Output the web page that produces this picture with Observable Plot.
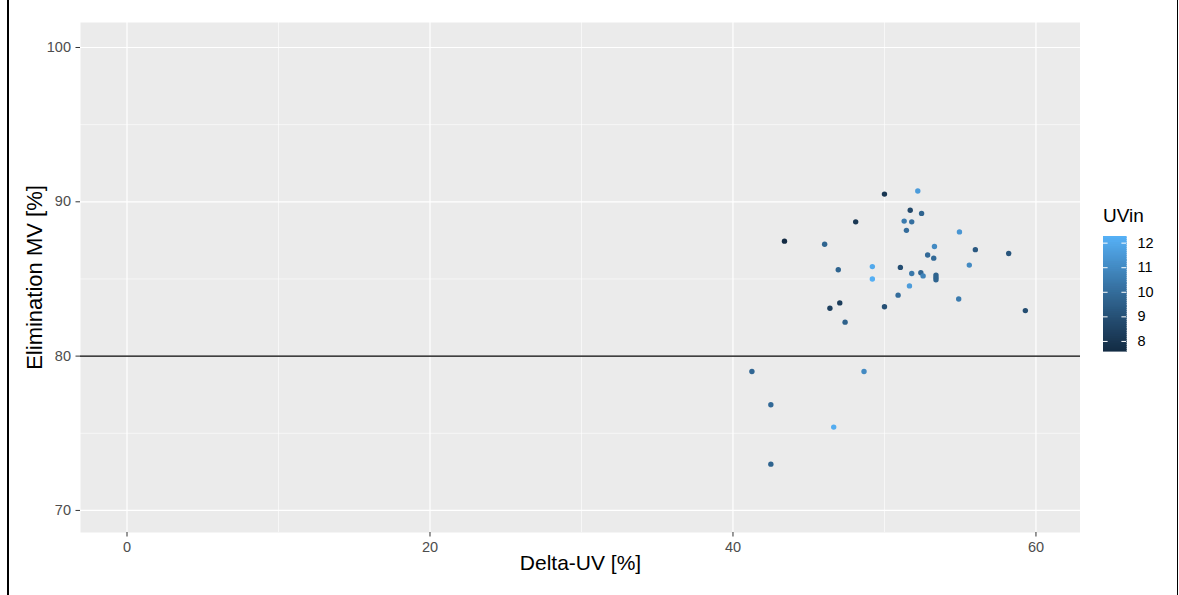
<!DOCTYPE html>
<html><head><meta charset="utf-8">
<script src="https://cdn.jsdelivr.net/npm/d3@7"></script>
<script src="https://cdn.jsdelivr.net/npm/@observablehq/plot@0.6"></script>
<style>
body{margin:0;background:#fff;font-family:"Liberation Sans",Arial,sans-serif;}
#wrap{position:relative;width:1179px;height:595px;overflow:hidden;background:#fff;}
#main{position:absolute;left:0;top:0;}
#legend{position:absolute;left:1080px;top:195px;}
#ltitle{position:absolute;left:1103px;top:205px;font-size:19px;line-height:22px;color:#000;}
.edgeL{position:absolute;left:7px;top:0;width:2px;height:595px;background:#000;}
.edgeR{position:absolute;left:1177px;top:0;width:1px;height:595px;background:#000;}
</style></head><body>
<div id="wrap"><div class="edgeL"></div><div class="edgeR"></div><div id="main"></div><div id="legend"></div><div id="ltitle">UVin</div></div>
<script>
const deltaUV = [50.0,52.2,51.7,52.45,51.3,51.8,51.45,48.1,54.95,43.4,46.05,53.3,56.0,58.2,52.85,53.25,46.95,49.2,51.05,55.6,51.8,52.4,52.55,53.4,53.4,53.4,49.2,51.65,50.9,54.9,47.05,46.4,50.0,59.3,47.4,41.25,48.65,42.5,46.65,42.5];
const elimMV  = [90.5,90.7,89.45,89.25,88.75,88.7,88.15,88.7,88.05,87.45,87.25,87.1,86.9,86.65,86.55,86.35,85.6,85.8,85.75,85.9,85.35,85.4,85.2,85.25,85.1,84.95,85.0,84.55,83.95,83.7,83.45,83.1,83.2,82.95,82.2,79.0,79.0,76.85,75.4,73.0];
const uvin    = [8.0,11.6,8.7,9.7,10.5,10.1,10.0,8.1,11.4,7.6,9.7,11.0,9.3,9.2,9.9,9.9,9.7,12.0,8.9,11.0,10.4,9.8,10.8,9.7,9.7,9.7,12.2,11.6,10.0,10.5,8.3,8.4,9.0,8.9,9.6,9.8,11.0,9.9,12.1,9.7];
const xTicks = [0,20,40,60];
const xMinor = [10,30,50];
const yTicks = [70,80,90,100];
const yMinor = [75,85,95];
const uvTicks = [8,9,10,11,12];
const refLine = [80];

const data = deltaUV.map((d,i)=>({x:d,y:elimMV[i],uv:uvin[i]}));
const colorOpts = {type:"linear", domain:[7.59,12.27], range:["#132B43","#56B1F7"], interpolate:"lab"};

const main = Plot.plot({
  width:1080, height:595,
  marginLeft:80, marginRight:0, marginTop:22, marginBottom:63,
  style:{fontFamily:"Liberation Sans, Arial, sans-serif", background:"transparent"},
  x:{domain:[-3.07,62.94]},
  y:{domain:[68.57,101.62]},
  color:colorOpts,
  marks:[
    Plot.frame({fill:"#EBEBEB", stroke:null}),
    Plot.gridX(xMinor,{stroke:"#fff", strokeOpacity:1, strokeWidth:0.6}),
    Plot.gridY(yMinor,{stroke:"#fff", strokeOpacity:1, strokeWidth:0.6}),
    Plot.gridX(xTicks,{stroke:"#fff", strokeOpacity:1, strokeWidth:1.2}),
    Plot.gridY(yTicks,{stroke:"#fff", strokeOpacity:1, strokeWidth:1.2}),
    Plot.ruleY(refLine,{stroke:"#000", strokeWidth:1.1}),
    Plot.dot(data,{x:"x", y:"y", fill:"uv", r:2.7, stroke:null}),
    Plot.axisX(xTicks,{tickSize:4.5, tickPadding:5, color:"#4D4D4D", stroke:"#333", label:null}),
    Plot.axisY(yTicks,{tickSize:4.5, tickPadding:5, color:"#4D4D4D", stroke:"#333", label:null}),
    Plot.text(["Delta-UV [%]"],{frameAnchor:"bottom", dy:37, fontSize:21, fill:"#000"}),
    Plot.text(["Elimination MV [%]"],{frameAnchor:"left", textAnchor:"middle", dx:-45.5, rotate:-90, fontSize:22, fill:"#000"})
  ]
});
d3.select(main).selectAll('[aria-label="x-axis tick label"], [aria-label="y-axis tick label"]')
  .attr("font-size", "14.5px").style("font-size", "14.5px")
  .selectAll("text").attr("font-size", "14.5px");
document.getElementById("main").appendChild(main);

const lo = colorOpts.domain[0], hi = colorOpts.domain[1];
const nSteps = 60;
const steps = d3.range(nSteps).map(i => ({y1: lo + (hi-lo)*i/nSteps, y2: lo + (hi-lo)*(i+1)/nSteps}));
const legend = Plot.plot({
  width:99, height:170,
  marginLeft:23, marginRight:53, marginTop:41, marginBottom:14,
  style:{fontFamily:"Liberation Sans, Arial, sans-serif", background:"transparent", overflow:"visible"},
  x:{domain:[0,1], axis:null},
  y:{domain:[lo,hi], axis:null},
  color:colorOpts,
  marks:[
    Plot.rect(steps,{x1:0, x2:1, y1:"y1", y2:"y2", fill:d=>(d.y1+d.y2)/2, stroke:d=>(d.y1+d.y2)/2, strokeWidth:0.6, inset:0, shapeRendering:"crispEdges"}),
    Plot.ruleY(uvTicks,{x1:0, x2:0.2, stroke:"#fff", strokeWidth:1}),
    Plot.ruleY(uvTicks,{x1:0.8, x2:1, stroke:"#fff", strokeWidth:1}),
    Plot.text(uvTicks,{x:1, y:d=>d, text:d=>String(d), dx:11, textAnchor:"start", fontSize:14.5, fill:"#000"})
  ]
});
document.getElementById("legend").appendChild(legend);
</script>
</body></html>
